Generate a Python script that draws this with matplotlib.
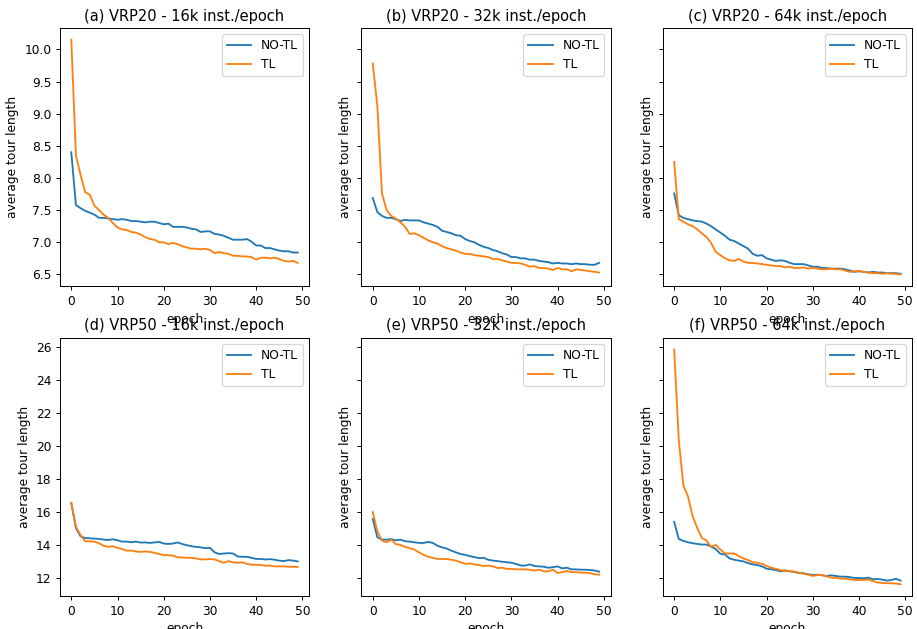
import matplotlib
matplotlib.use("Agg")
import matplotlib.pyplot as plt

epochs = list(range(50))

# VRP20 runs
vrp20_16k_notl = [8.40, 7.58, 7.53, 7.49, 7.46, 7.43, 7.38, 7.38, 7.37, 7.36,
                  7.35, 7.36, 7.35, 7.33, 7.33, 7.32, 7.31, 7.32, 7.32, 7.30,
                  7.28, 7.29, 7.24, 7.24, 7.24, 7.23, 7.21, 7.20, 7.16, 7.17,
                  7.17, 7.13, 7.12, 7.10, 7.07, 7.04, 7.04, 7.04, 7.05, 7.01,
                  6.95, 6.95, 6.91, 6.91, 6.89, 6.87, 6.86, 6.86, 6.84, 6.84]
vrp20_16k_tl = [10.15, 8.35, 8.05, 7.78, 7.74, 7.57, 7.50, 7.43, 7.38, 7.30,
                7.23, 7.20, 7.19, 7.16, 7.15, 7.12, 7.08, 7.05, 7.04, 7.00,
                7.00, 6.97, 6.99, 6.97, 6.94, 6.92, 6.90, 6.90, 6.89, 6.90,
                6.88, 6.83, 6.85, 6.83, 6.82, 6.79, 6.79, 6.78, 6.78, 6.77,
                6.73, 6.76, 6.76, 6.75, 6.76, 6.74, 6.71, 6.70, 6.71, 6.68]
vrp20_32k_notl = [7.69, 7.47, 7.41, 7.38, 7.38, 7.36, 7.33, 7.35, 7.34, 7.34,
                  7.34, 7.31, 7.29, 7.27, 7.24, 7.18, 7.16, 7.14, 7.11, 7.10,
                  7.05, 7.02, 7.00, 6.96, 6.93, 6.91, 6.88, 6.86, 6.83, 6.81,
                  6.77, 6.77, 6.75, 6.75, 6.73, 6.73, 6.71, 6.70, 6.69, 6.67,
                  6.68, 6.67, 6.67, 6.66, 6.67, 6.66, 6.66, 6.65, 6.65, 6.68]
vrp20_32k_tl = [9.78, 9.12, 7.76, 7.50, 7.41, 7.37, 7.31, 7.24, 7.13, 7.14,
                7.11, 7.07, 7.03, 7.00, 6.98, 6.94, 6.91, 6.89, 6.87, 6.84,
                6.82, 6.82, 6.80, 6.79, 6.78, 6.77, 6.74, 6.74, 6.72, 6.70,
                6.68, 6.68, 6.67, 6.65, 6.62, 6.63, 6.60, 6.60, 6.59, 6.57,
                6.60, 6.58, 6.58, 6.55, 6.58, 6.57, 6.56, 6.55, 6.54, 6.53]
vrp20_64k_notl = [7.76, 7.42, 7.38, 7.36, 7.34, 7.33, 7.32, 7.29, 7.25, 7.20,
                  7.15, 7.10, 7.04, 7.02, 6.98, 6.94, 6.90, 6.82, 6.79, 6.80,
                  6.75, 6.73, 6.71, 6.72, 6.71, 6.68, 6.66, 6.66, 6.66, 6.64,
                  6.62, 6.62, 6.60, 6.60, 6.59, 6.59, 6.59, 6.58, 6.56, 6.54,
                  6.55, 6.54, 6.53, 6.54, 6.53, 6.53, 6.52, 6.52, 6.52, 6.51]
vrp20_64k_tl = [8.25, 7.36, 7.32, 7.28, 7.25, 7.20, 7.14, 7.08, 6.99, 6.85,
                6.80, 6.75, 6.72, 6.71, 6.74, 6.70, 6.68, 6.68, 6.67, 6.66,
                6.65, 6.64, 6.63, 6.63, 6.61, 6.62, 6.60, 6.60, 6.61, 6.59,
                6.60, 6.59, 6.58, 6.58, 6.59, 6.58, 6.58, 6.56, 6.54, 6.55,
                6.55, 6.54, 6.53, 6.52, 6.52, 6.51, 6.52, 6.51, 6.51, 6.50]

# VRP50 runs
vrp50_16k_notl = [16.53, 15.02, 14.52, 14.42, 14.40, 14.38, 14.36, 14.32, 14.30, 14.34,
                  14.28, 14.20, 14.20, 14.16, 14.20, 14.14, 14.15, 14.12, 14.15, 14.18,
                  14.08, 14.06, 14.08, 14.15, 14.05, 13.98, 13.92, 13.88, 13.85, 13.80,
                  13.82, 13.55, 13.45, 13.48, 13.50, 13.48, 13.30, 13.28, 13.28, 13.22,
                  13.15, 13.15, 13.12, 13.14, 13.10, 13.05, 13.02, 13.08, 13.05, 13.00]
vrp50_16k_tl = [16.55, 15.10, 14.60, 14.22, 14.22, 14.20, 14.10, 13.95, 13.88, 13.92,
                13.82, 13.75, 13.65, 13.66, 13.60, 13.58, 13.60, 13.58, 13.52, 13.45,
                13.38, 13.38, 13.35, 13.25, 13.24, 13.22, 13.22, 13.18, 13.12, 13.12,
                13.15, 13.12, 13.02, 12.92, 13.02, 12.95, 12.92, 12.95, 12.85, 12.80,
                12.80, 12.78, 12.74, 12.75, 12.70, 12.70, 12.70, 12.68, 12.68, 12.66]
vrp50_32k_notl = [15.57, 14.46, 14.32, 14.32, 14.35, 14.28, 14.32, 14.22, 14.20, 14.16,
                  14.12, 14.12, 14.18, 14.12, 13.95, 13.85, 13.78, 13.65, 13.55, 13.45,
                  13.40, 13.32, 13.26, 13.20, 13.22, 13.10, 13.05, 13.02, 12.98, 12.95,
                  12.92, 12.85, 12.75, 12.75, 12.82, 12.72, 12.70, 12.68, 12.62, 12.65,
                  12.70, 12.58, 12.62, 12.52, 12.52, 12.50, 12.50, 12.48, 12.45, 12.38]
vrp50_32k_tl = [15.99, 14.82, 14.26, 14.16, 14.32, 14.05, 14.00, 13.88, 13.80, 13.72,
                13.55, 13.40, 13.28, 13.22, 13.15, 13.15, 13.15, 13.10, 13.05, 12.95,
                12.85, 12.88, 12.82, 12.78, 12.72, 12.75, 12.70, 12.60, 12.62, 12.55,
                12.55, 12.52, 12.52, 12.52, 12.50, 12.45, 12.50, 12.40, 12.40, 12.50,
                12.30, 12.35, 12.42, 12.35, 12.35, 12.32, 12.32, 12.30, 12.22, 12.20]
vrp50_64k_notl = [15.39, 14.36, 14.24, 14.16, 14.10, 14.06, 14.02, 14.02, 13.90, 13.75,
                  13.46, 13.42, 13.18, 13.10, 13.05, 13.00, 12.90, 12.82, 12.78, 12.70,
                  12.56, 12.52, 12.48, 12.40, 12.46, 12.40, 12.36, 12.30, 12.28, 12.22,
                  12.18, 12.20, 12.16, 12.12, 12.16, 12.12, 12.08, 12.08, 12.05, 12.00,
                  12.00, 11.98, 12.02, 11.92, 11.94, 11.90, 11.84, 11.88, 11.95, 11.84]
vrp50_64k_tl = [25.82, 20.33, 17.59, 16.93, 15.73, 15.02, 14.42, 14.26, 13.88, 14.00,
                13.72, 13.48, 13.48, 13.48, 13.32, 13.18, 13.08, 12.95, 12.92, 12.86,
                12.72, 12.62, 12.55, 12.48, 12.42, 12.42, 12.38, 12.32, 12.26, 12.20,
                12.12, 12.18, 12.18, 12.10, 12.02, 12.00, 11.96, 11.96, 11.92, 11.88,
                11.88, 11.88, 11.90, 11.82, 11.72, 11.70, 11.68, 11.68, 11.66, 11.62]

titles = ["(a) VRP20 - 16k inst./epoch", "(b) VRP20 - 32k inst./epoch",
          "(c) VRP20 - 64k inst./epoch", "(d) VRP50 - 16k inst./epoch",
          "(e) VRP50 - 32k inst./epoch", "(f) VRP50 - 64k inst./epoch"]
notl_runs = [vrp20_16k_notl, vrp20_32k_notl, vrp20_64k_notl,
             vrp50_16k_notl, vrp50_32k_notl, vrp50_64k_notl]
tl_runs = [vrp20_16k_tl, vrp20_32k_tl, vrp20_64k_tl,
           vrp50_16k_tl, vrp50_32k_tl, vrp50_64k_tl]

DPI = 88
fig, axes = plt.subplots(2, 3, sharey='row', figsize=(917 / DPI, 629 / DPI), dpi=DPI)
fig.subplots_adjust(left=0.0654, right=0.9945, bottom=0.0525, top=0.9555,
                    wspace=0.21, hspace=0.2)

for i, ax in enumerate(axes.flat):
    ax.plot(epochs, notl_runs[i], label="NO-TL")
    ax.plot(epochs, tl_runs[i], label="TL")
    ax.set_title(titles[i])
    ax.set_xlabel("epoch")
    ax.set_ylabel("average tour length")
    ax.legend(loc='upper right')

fig.savefig("out.png", dpi=DPI)
